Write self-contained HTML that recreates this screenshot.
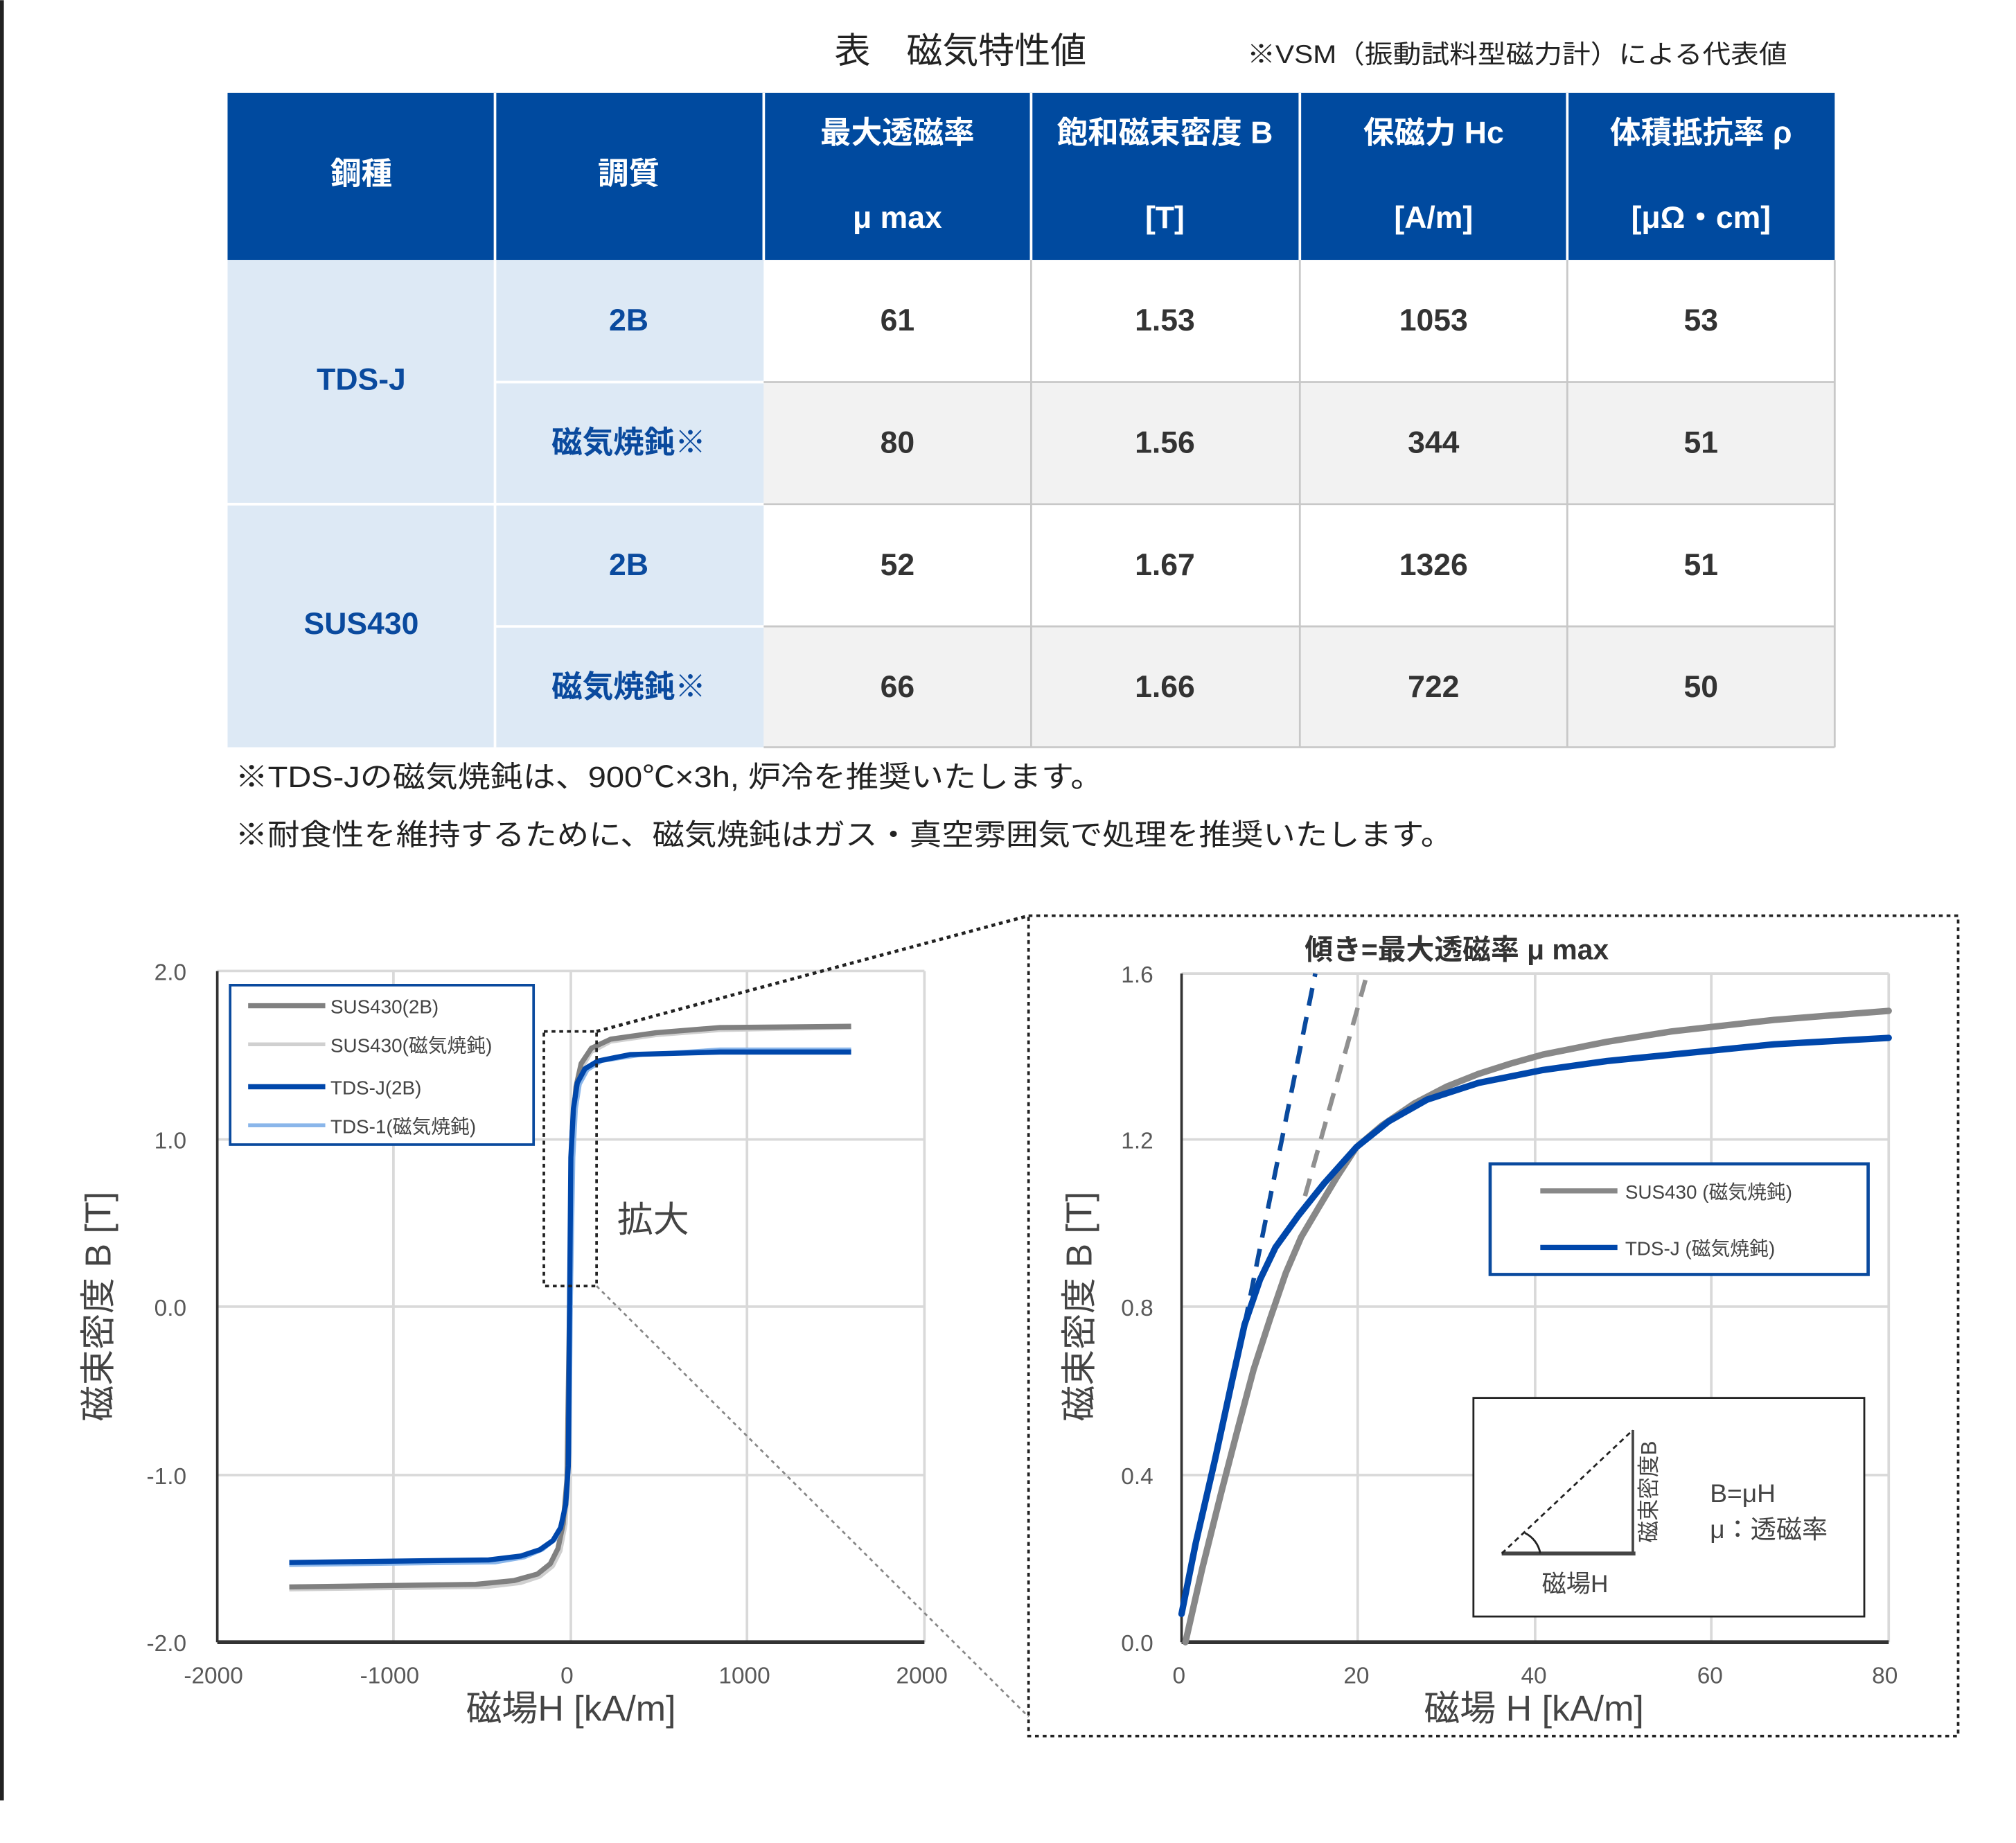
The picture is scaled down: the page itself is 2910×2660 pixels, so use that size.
<!DOCTYPE html>
<html><head><meta charset="utf-8"><style>
html,body{margin:0;padding:0;background:#fff;}
svg{display:block;}
text{font-family:"Liberation Sans","Noto Sans CJK JP",sans-serif;}
</style></head><body>
<svg width="2910" height="2660" viewBox="0 0 1568 1433" xmlns="http://www.w3.org/2000/svg">
<rect x="0" y="0" width="1568" height="1433" fill="#fff"/>
<rect x="0" y="0" width="3" height="1400" fill="#222"/>
<!-- Title -->
<text x="747" y="49" font-size="28" text-anchor="middle" fill="#222">表　磁気特性値</text>
<text x="970" y="49" font-size="20" fill="#222" textLength="420" lengthAdjust="spacingAndGlyphs">※VSM（振動試料型磁力計）による代表値</text>
<!-- Table -->
<rect x="177" y="72" width="1250" height="130" fill="#004a9f"/>
<rect x="177" y="202" width="417" height="379" fill="#dde9f5"/>
<rect x="594" y="202" width="833" height="95" fill="#fff"/>
<rect x="594" y="297" width="833" height="95" fill="#f2f2f2"/>
<rect x="594" y="392" width="833" height="95" fill="#fff"/>
<rect x="594" y="487" width="833" height="94" fill="#f2f2f2"/>
<g stroke="#fff" stroke-width="2">
<line x1="385" y1="72" x2="385" y2="202"/><line x1="594" y1="72" x2="594" y2="202"/>
<line x1="802" y1="72" x2="802" y2="202"/><line x1="1011" y1="72" x2="1011" y2="202"/>
<line x1="1219" y1="72" x2="1219" y2="202"/>
<line x1="385" y1="202" x2="385" y2="581"/><line x1="177" y1="392" x2="594" y2="392"/>
<line x1="385" y1="297" x2="594" y2="297"/><line x1="385" y1="487" x2="594" y2="487"/>
</g>
<g stroke="#c8c8c8" stroke-width="1.5">
<line x1="802" y1="202" x2="802" y2="581"/><line x1="1011" y1="202" x2="1011" y2="581"/>
<line x1="1219" y1="202" x2="1219" y2="581"/><line x1="1427" y1="202" x2="1427" y2="581"/>
<line x1="594" y1="297" x2="1427" y2="297"/><line x1="594" y1="392" x2="1427" y2="392"/>
<line x1="594" y1="487" x2="1427" y2="487"/><line x1="594" y1="581" x2="1427" y2="581"/>
</g>
<g font-size="24" font-weight="bold" fill="#fff" text-anchor="middle">
<text x="281" y="143">鋼種</text><text x="489" y="143">調質</text>
<text x="698" y="111">最大透磁率</text><text x="698" y="177">μ max</text>
<text x="906" y="111">飽和磁束密度 B</text><text x="906" y="177">[T]</text>
<text x="1115" y="111">保磁力 Hc</text><text x="1115" y="177">[A/m]</text>
<text x="1323" y="111">体積抵抗率 ρ</text><text x="1323" y="177">[μΩ・cm]</text>
</g>
<g font-size="24" font-weight="bold" fill="#0a4a9e" text-anchor="middle">
<text x="281" y="303">TDS-J</text><text x="281" y="493">SUS430</text>
<text x="489" y="257">2B</text><text x="489" y="352">磁気焼鈍※</text>
<text x="489" y="447">2B</text><text x="489" y="542">磁気焼鈍※</text>
</g>
<g font-size="24" font-weight="bold" fill="#333" text-anchor="middle">
<text x="698" y="257">61</text><text x="906" y="257">1.53</text><text x="1115" y="257">1053</text><text x="1323" y="257">53</text>
<text x="698" y="352">80</text><text x="906" y="352">1.56</text><text x="1115" y="352">344</text><text x="1323" y="352">51</text>
<text x="698" y="447">52</text><text x="906" y="447">1.67</text><text x="1115" y="447">1326</text><text x="1323" y="447">51</text>
<text x="698" y="542">66</text><text x="906" y="542">1.66</text><text x="1115" y="542">722</text><text x="1323" y="542">50</text>
</g>
<g font-size="23" fill="#222">
<text x="183" y="612" textLength="675" lengthAdjust="spacingAndGlyphs">※TDS-Jの磁気焼鈍は、900℃×3h, 炉冷を推奨いたします。</text>
<text x="183" y="657" textLength="947" lengthAdjust="spacingAndGlyphs">※耐食性を維持するために、磁気焼鈍はガス・真空雰囲気で処理を推奨いたします。</text>
</g>

<!-- Left chart -->
<g stroke="#d9d9d9" stroke-width="2">
<line x1="169" y1="755" x2="719" y2="755"/><line x1="169" y1="886" x2="719" y2="886"/>
<line x1="169" y1="1016" x2="719" y2="1016"/><line x1="169" y1="1147" x2="719" y2="1147"/>
<line x1="306" y1="755" x2="306" y2="1277"/><line x1="444" y1="755" x2="444" y2="1277"/>
<line x1="581" y1="755" x2="581" y2="1277"/><line x1="719" y1="755" x2="719" y2="1277"/>
</g>
<line x1="169" y1="755" x2="169" y2="1277" stroke="#333" stroke-width="2"/>
<line x1="169" y1="1277" x2="719" y2="1277" stroke="#333" stroke-width="3"/>
<g font-size="18" fill="#595959" text-anchor="end">
<text x="145" y="762">2.0</text><text x="145" y="893">1.0</text><text x="145" y="1023">0.0</text>
<text x="145" y="1154">-1.0</text><text x="145" y="1284">-2.0</text>
</g>
<g font-size="18" fill="#595959" text-anchor="middle">
<text x="166" y="1309">-2000</text><text x="303" y="1309">-1000</text><text x="441" y="1309">0</text>
<text x="579" y="1309">1000</text><text x="717" y="1309">2000</text>
</g>
<text transform="translate(86,1016) rotate(-90)" font-size="28" fill="#444" text-anchor="middle">磁束密度 B [T]</text>
<text x="444" y="1338" font-size="28" fill="#444" text-anchor="middle">磁場H  [kA/m]</text>

<!-- left curves -->
<g fill="none" stroke-linejoin="round">
<path d="M225,1236 L380,1234 L405,1231 L420,1226 L430,1218 L436,1206 L440,1185 L442,1150 L444,1016 L446,880 L449,848 L453,830 L460,818 L475,810 L510,805 L560,801 L662,799" stroke="#d0d0d0" stroke-width="3"/>
<path d="M225,1234 L370,1232 L400,1229 L418,1224 L428,1216 L434,1204 L438,1185 L441,1150 L443,1016 L445,880 L448,845 L452,827 L460,815 L475,808 L510,803 L560,799 L662,798" stroke="#808080" stroke-width="4"/>
<path d="M225,1217 L385,1215 L408,1211 L422,1205 L432,1197 L437,1186 L441,1165 L443,1130 L444,1016 L446,900 L448,862 L451,843 L457,832 L468,825 L500,820 L560,816 L662,816" stroke="#8ab6ea" stroke-width="3"/>
<path d="M225,1215 L380,1213 L405,1210 L420,1205 L430,1198 L436,1188 L440,1170 L442,1140 L443,1016 L444,900 L446,862 L449,842 L455,831 L465,825 L490,820 L560,818 L662,818" stroke="#0047ab" stroke-width="4"/>
</g>
<!-- legend -->
<rect x="179" y="766" width="236" height="124" fill="#fff" stroke="#0a4a9e" stroke-width="2"/>
<line x1="193" y1="782" x2="253" y2="782" stroke="#808080" stroke-width="4"/>
<line x1="193" y1="812" x2="253" y2="812" stroke="#d0d0d0" stroke-width="3"/>
<line x1="193" y1="845" x2="253" y2="845" stroke="#0047ab" stroke-width="4"/>
<line x1="193" y1="875" x2="253" y2="875" stroke="#8ab6ea" stroke-width="3"/>
<g font-size="15" fill="#444">
<text x="257" y="788">SUS430(2B)</text><text x="257" y="818">SUS430(磁気焼鈍)</text>
<text x="257" y="851">TDS-J(2B)</text><text x="257" y="881">TDS-1(磁気焼鈍)</text>
</g>
<rect x="423" y="802" width="41" height="198" fill="none" stroke="#222" stroke-width="2" stroke-dasharray="3,3"/>
<text x="480" y="958" font-size="28" fill="#444">拡大</text>
<line x1="464" y1="802" x2="800" y2="712" stroke="#222" stroke-width="2.5" stroke-dasharray="3,3"/>
<line x1="464" y1="1000" x2="800" y2="1335" stroke="#888" stroke-width="1.5" stroke-dasharray="3,3"/>

<!-- right box -->
<rect x="800" y="712" width="723" height="638" fill="none" stroke="#222" stroke-width="2" stroke-dasharray="3,3"/>
<text x="1133" y="746" font-size="22" font-weight="bold" fill="#333" text-anchor="middle">傾き=最大透磁率 μ max</text>
<g stroke="#d9d9d9" stroke-width="2">
<line x1="919" y1="757" x2="1469" y2="757"/><line x1="919" y1="886" x2="1469" y2="886"/>
<line x1="919" y1="1016" x2="1469" y2="1016"/><line x1="919" y1="1147" x2="1469" y2="1147"/>
<line x1="1056" y1="757" x2="1056" y2="1277"/><line x1="1194" y1="757" x2="1194" y2="1277"/>
<line x1="1331" y1="757" x2="1331" y2="1277"/><line x1="1469" y1="757" x2="1469" y2="1277"/>
</g>
<line x1="919" y1="757" x2="919" y2="1277" stroke="#333" stroke-width="2"/>
<line x1="919" y1="1277" x2="1469" y2="1277" stroke="#333" stroke-width="3"/>
<g font-size="18" fill="#595959" text-anchor="end">
<text x="897" y="764">1.6</text><text x="897" y="893">1.2</text><text x="897" y="1023">0.8</text>
<text x="897" y="1154">0.4</text><text x="897" y="1284">0.0</text>
</g>
<g font-size="18" fill="#595959" text-anchor="middle">
<text x="917" y="1309">0</text><text x="1055" y="1309">20</text><text x="1193" y="1309">40</text>
<text x="1330" y="1309">60</text><text x="1466" y="1309">80</text>
</g>
<text transform="translate(849,1016) rotate(-90)" font-size="28" fill="#444" text-anchor="middle">磁束密度 B [T]</text>
<text x="1193" y="1338" font-size="28" fill="#444" text-anchor="middle">磁場 H [kA/m]</text>
<line x1="968" y1="1030" x2="1023" y2="757" stroke="#0a4a9e" stroke-width="3.5" stroke-dasharray="14,9"/>
<line x1="1015" y1="930" x2="1062" y2="762" stroke="#909090" stroke-width="3.5" stroke-dasharray="14,9"/>
<g fill="none" stroke-linejoin="round" stroke-linecap="round">
<path d="M922,1277 L935,1220 L950,1160 L963,1110 L975,1065 L988,1025 L1000,990 L1012,962 L1025,940 L1040,915 L1055,892 L1075,875 L1100,858 L1125,845 L1150,835 L1175,827 L1200,820 L1250,810 L1300,802 L1380,793 L1469,786" stroke="#888" stroke-width="5"/>
<path d="M919,1255 L930,1200 L945,1135 L958,1075 L968,1030 L980,995 L992,970 L1010,945 L1030,920 L1055,892 L1080,872 L1110,855 L1150,842 L1200,832 L1250,825 L1300,820 L1380,812 L1469,807" stroke="#0047ab" stroke-width="5"/>
</g>
<rect x="1159" y="905" width="294" height="86" fill="#fff" stroke="#0a4a9e" stroke-width="2.5"/>
<line x1="1198" y1="926" x2="1258" y2="926" stroke="#888" stroke-width="4"/>
<line x1="1198" y1="970" x2="1258" y2="970" stroke="#0047ab" stroke-width="4"/>
<g font-size="15" fill="#444">
<text x="1264" y="932">SUS430 (磁気焼鈍)</text><text x="1264" y="976">TDS-J (磁気焼鈍)</text>
</g>
<rect x="1146" y="1087" width="304" height="170" fill="#fff" stroke="#222" stroke-width="1.5"/>
<line x1="1168" y1="1208" x2="1272" y2="1208" stroke="#444" stroke-width="3"/>
<line x1="1270" y1="1208" x2="1270" y2="1112" stroke="#444" stroke-width="2"/>
<line x1="1168" y1="1208" x2="1270" y2="1112" stroke="#222" stroke-width="1.5" stroke-dasharray="4,3"/>
<path d="M1186,1192 A22,22 0 0 1 1198,1208" fill="none" stroke="#222" stroke-width="1.5"/>
<text x="1225" y="1238" font-size="19" fill="#444" text-anchor="middle">磁場H</text>
<text transform="translate(1288,1160) rotate(-90)" font-size="17" fill="#444" text-anchor="middle">磁束密度B</text>
<text x="1330" y="1168" font-size="20" fill="#444">B=μH</text>
<text x="1330" y="1196" font-size="20" fill="#444">μ：透磁率</text>
</svg>
</body></html>
